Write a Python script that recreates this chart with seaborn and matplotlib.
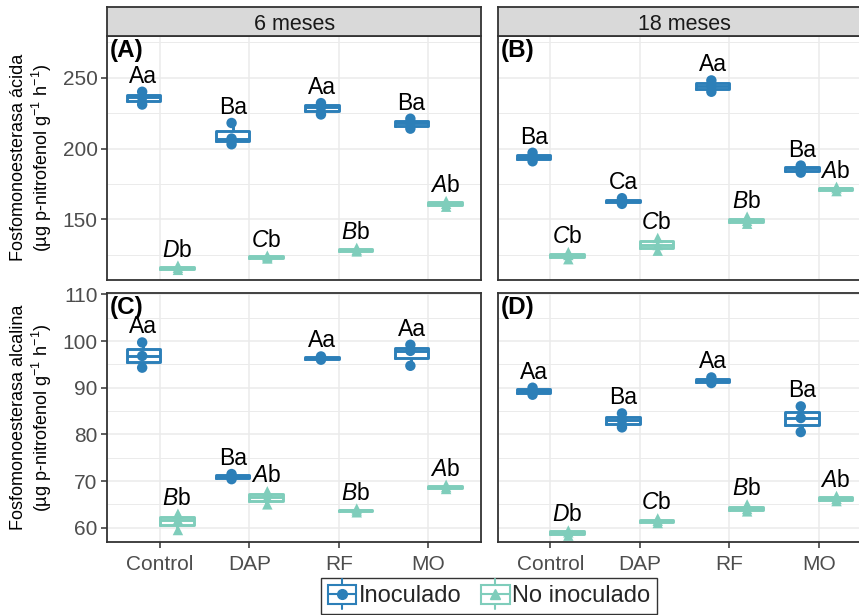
import numpy as np
import pandas as pd
import matplotlib
matplotlib.use("Agg")
import matplotlib.pyplot as plt
import seaborn as sns
from matplotlib.ticker import MultipleLocator
from matplotlib.legend_handler import HandlerBase
from matplotlib.patches import Rectangle
from matplotlib.lines import Line2D

# ---------------- data ----------------
categorias = ["Control", "DAP", "RF", "MO"]
grupos = ["Inoculado", "No inoculado"]
tiempos = ["6 meses", "18 meses"]
etiquetas_panel = ["(A)", "(B)", "(C)", "(D)"]
ylabel_acida = "Fosfomonoesterasa ácida"
ylabel_alcalina = "Fosfomonoesterasa alcalina"
ylabel_unidad = "(µg p-nitrofenol g$^{-1}$ h$^{-1}$)"

# Fosfomonoesterasa ácida, 6 meses (A)
acida_6_inoc = [[231, 236, 240], [203, 207, 218], [224, 229, 232], [214, 218, 221]]
acida_6_no = [[114.5, 116, 117.5], [122.5, 123.5, 124.5], [127.5, 128.5, 130], [159, 161, 163]]
letras_A_inoc = ["Aa", "Ba", "Aa", "Ba"]
letras_A_no = ["Db", "Cb", "Bb", "Ab"]

# Fosfomonoesterasa ácida, 18 meses (B)
acida_18_inoc = [[191, 194, 197], [161, 163, 165], [240, 244, 248], [183, 186, 188]]
acida_18_no = [[122, 125, 127], [128, 132, 137], [147, 149, 152], [170, 172, 173]]
letras_B_inoc = ["Ba", "Ca", "Aa", "Ba"]
letras_B_no = ["Cb", "Cb", "Bb", "Ab"]

# Fosfomonoesterasa alcalina, 6 meses (C)
alcalina_6_inoc = [[94.3, 96.8, 99.7], [70.4, 71.0, 71.5], [96.0, 96.3, 96.7], [94.7, 97.9, 99.2]]
alcalina_6_no = [[59.5, 61.7, 63.0], [65.0, 66.5, 67.8], [63.3, 63.7, 64.1], [68.3, 68.7, 69.2]]
letras_C_inoc = ["Aa", "Ba", "Aa", "Aa"]
letras_C_no = ["Bb", "Ab", "Bb", "Ab"]

# Fosfomonoesterasa alcalina, 18 meses (D)
alcalina_18_inoc = [[88.5, 89.4, 90.0], [81.5, 83.0, 84.5], [91.0, 91.5, 92.2], [80.5, 83.5, 86.0]]
alcalina_18_no = [[58.3, 59.0, 59.4], [61.0, 61.5, 62.0], [63.5, 64.0, 65.0], [65.7, 66.2, 66.8]]
letras_D_inoc = ["Aa", "Ba", "Aa", "Ba"]
letras_D_no = ["Db", "Cb", "Bb", "Ab"]

colores = ["#2C7FB8", "#7FCDBB"]
marcadores = ["o", "^"]

# ---------------- style ----------------
sns.set_theme(style="white")
plt.rcParams["font.family"] = ["Liberation Sans", "DejaVu Sans"]
plt.rcParams["mathtext.fontset"] = "custom"
plt.rcParams["mathtext.rm"] = "Liberation Sans"
plt.rcParams["mathtext.it"] = "Liberation Sans:italic"
plt.rcParams["mathtext.bf"] = "Liberation Sans:bold"

W, H = 859, 615
fig = plt.figure(figsize=(W / 100, H / 100), dpi=100)
fig.patch.set_facecolor("white")


def px_axes(x0, y_top, x1, y_bot):
    return [x0 / W, 1 - y_bot / H, (x1 - x0) / W, (y_bot - y_top) / H]


LX0, LX1 = 107.3, 481.0
RX0 = 497.7
RX1 = RX0 + (LX1 - LX0)
TOP_Y0, TOP_Y1 = 36.0, 279.5
BOT_Y0, BOT_Y1 = 293.0, 541.7


def long_df(inoc, no):
    rows = []
    for g, vals in zip(grupos, [inoc, no]):
        for cat, reps in zip(categorias, vals):
            for v in reps:
                rows.append((cat, g, v))
    return pd.DataFrame(rows, columns=["Tratamiento", "Grupo", "Valor"])


def draw_panel(ax, df, letras_inoc, letras_no, ylim, major, minor, show_x, show_y, tag):
    sns.boxplot(data=df, x="Tratamiento", y="Valor", hue="Grupo",
                order=categorias, hue_order=grupos, palette=colores,
                fill=False, width=0.75, gap=0, linewidth=2.1, whis=np.inf,
                showfliers=False, legend=False, ax=ax,
                capprops={"linewidth": 0})
    for g, m in zip(grupos, marcadores):
        sns.stripplot(data=df[df["Grupo"] == g], x="Tratamiento", y="Valor",
                      hue="Grupo", order=categorias, hue_order=grupos,
                      palette=colores, dodge=True, jitter=False, marker=m,
                      size=7.5, linewidth=0, legend=False, ax=ax, zorder=4)
    for gi, (g, letras) in enumerate(zip(grupos, [letras_inoc, letras_no])):
        off = (gi - 0.5) * 0.375
        for ci, cat in enumerate(categorias):
            top = df[(df["Grupo"] == g) & (df["Tratamiento"] == cat)]["Valor"].max()
            txt = letras[ci]
            if gi == 1:
                txt = "$\\mathit{" + txt[0] + "}$" + txt[1:]
            ax.annotate(txt, (ci + off, top), xytext=(0, 6.5),
                        textcoords="offset points", ha="center", va="baseline",
                        fontsize=16.5, color="black", zorder=5)
    ax.set_xlim(-0.59, 3.59)
    ax.set_ylim(*ylim)
    ax.yaxis.set_major_locator(MultipleLocator(major))
    ax.yaxis.set_minor_locator(MultipleLocator(minor))
    ax.grid(which="major", color="#EBEBEB", linewidth=1.1)
    ax.grid(which="minor", axis="y", color="#EBEBEB", linewidth=0.7)
    ax.grid(which="minor", axis="x", visible=False)
    ax.set_axisbelow(True)
    ax.set_facecolor("white")
    for s in ax.spines.values():
        s.set_visible(True)
        s.set_color("#333333")
        s.set_linewidth(1.3)
    ax.tick_params(which="minor", length=0)
    ax.tick_params(axis="y", which="major", length=4, width=1.1,
                   color="#333333", labelcolor="#4D4D4D", labelsize=15, pad=3,
                   left=True)
    ax.tick_params(axis="x", which="major", length=4.3, width=1.1,
                   color="#333333", labelcolor="#4D4D4D", labelsize=15, pad=5.5,
                   bottom=True)
    if not show_x:
        ax.tick_params(axis="x", length=0, labelbottom=False)
    if not show_y:
        ax.tick_params(axis="y", length=0, labelleft=False)
    ax.set_xlabel("")
    ax.set_ylabel("")
    ax.annotate(tag, (0, 1), xycoords="axes fraction", xytext=(2, -2),
                textcoords="offset points", ha="left", va="top",
                fontsize=17.5, fontweight="bold", color="black")


def strip(x0, x1, text):
    sax = fig.add_axes(px_axes(x0, 7.3, x1, TOP_Y0))
    sax.set_facecolor("#D9D9D9")
    sax.set_xticks([])
    sax.set_yticks([])
    for s in sax.spines.values():
        s.set_visible(True)
        s.set_color("#333333")
        s.set_linewidth(1.3)
    sax.text(0.5, 0.5, text, transform=sax.transAxes, ha="center",
             va="center_baseline", fontsize=15.5, color="#1A1A1A")


top_lim = (107.7, 279.3)
bot_lim = (57.0, 110.3)

axA = fig.add_axes(px_axes(LX0, TOP_Y0, LX1, TOP_Y1))
axB = fig.add_axes(px_axes(RX0, TOP_Y0, RX1, TOP_Y1))
axC = fig.add_axes(px_axes(LX0, BOT_Y0, LX1, BOT_Y1))
axD = fig.add_axes(px_axes(RX0, BOT_Y0, RX1, BOT_Y1))

draw_panel(axA, long_df(acida_6_inoc, acida_6_no), letras_A_inoc, letras_A_no,
           top_lim, 50, 25, False, True, etiquetas_panel[0])
draw_panel(axB, long_df(acida_18_inoc, acida_18_no), letras_B_inoc, letras_B_no,
           top_lim, 50, 25, False, False, etiquetas_panel[1])
draw_panel(axC, long_df(alcalina_6_inoc, alcalina_6_no), letras_C_inoc, letras_C_no,
           bot_lim, 10, 5, True, True, etiquetas_panel[2])
draw_panel(axD, long_df(alcalina_18_inoc, alcalina_18_no), letras_D_inoc, letras_D_no,
           bot_lim, 10, 5, True, False, etiquetas_panel[3])

strip(LX0, LX1, tiempos[0])
strip(RX0, RX1, tiempos[1])

# y labels
fig.text(19 / W, 1 - (TOP_Y0 + TOP_Y1) / 2 / H, ylabel_acida, rotation=90,
         ha="center", va="center", fontsize=13, color="black")
fig.text(42 / W, 1 - (TOP_Y0 + TOP_Y1) / 2 / H, ylabel_unidad, rotation=90,
         ha="center", va="center", fontsize=13, color="black")
fig.text(19 / W, 1 - (BOT_Y0 + BOT_Y1) / 2 / H, ylabel_alcalina, rotation=90,
         ha="center", va="center", fontsize=13, color="black")
fig.text(42 / W, 1 - (BOT_Y0 + BOT_Y1) / 2 / H, ylabel_unidad, rotation=90,
         ha="center", va="center", fontsize=13, color="black")


# legend
class ClaveCaja:
    def __init__(self, color, marker):
        self.color = color
        self.marker = marker


class ManejadorCaja(HandlerBase):
    def create_artists(self, legend, orig, xdescent, ydescent, width, height,
                       fontsize, trans):
        x0, y0 = -xdescent, -ydescent
        cx, cy = x0 + width / 2, y0 + height / 2
        whisk = Line2D([cx, cx], [y0 - 0.3 * height, y0 + 1.3 * height],
                       color=orig.color, lw=1.5, transform=trans)
        rect = Rectangle((x0, y0), width, height, facecolor="white",
                         edgecolor=orig.color, lw=1.5, transform=trans)
        med = Line2D([x0, x0 + width], [cy, cy], color=orig.color, lw=1.5,
                     transform=trans)
        pt = Line2D([cx], [cy], marker=orig.marker, color=orig.color,
                    markersize=7, lw=0, transform=trans)
        return [whisk, rect, med, pt]


handles = [ClaveCaja(c, m) for c, m in zip(colores, marcadores)]
leg = fig.legend(handles, grupos, handler_map={ClaveCaja: ManejadorCaja()},
                 loc="center", bbox_to_anchor=(489 / W, 1 - 596 / H), ncol=2,
                 frameon=True, fancybox=False, edgecolor="black", fontsize=17,
                 handlelength=1.2, handleheight=0.85, handletextpad=0.1,
                 columnspacing=0.85, borderpad=0.3)
leg.get_frame().set_linewidth(1.0)
leg.get_frame().set_facecolor("white")

fig.savefig("out.png", dpi=100, facecolor="white")
